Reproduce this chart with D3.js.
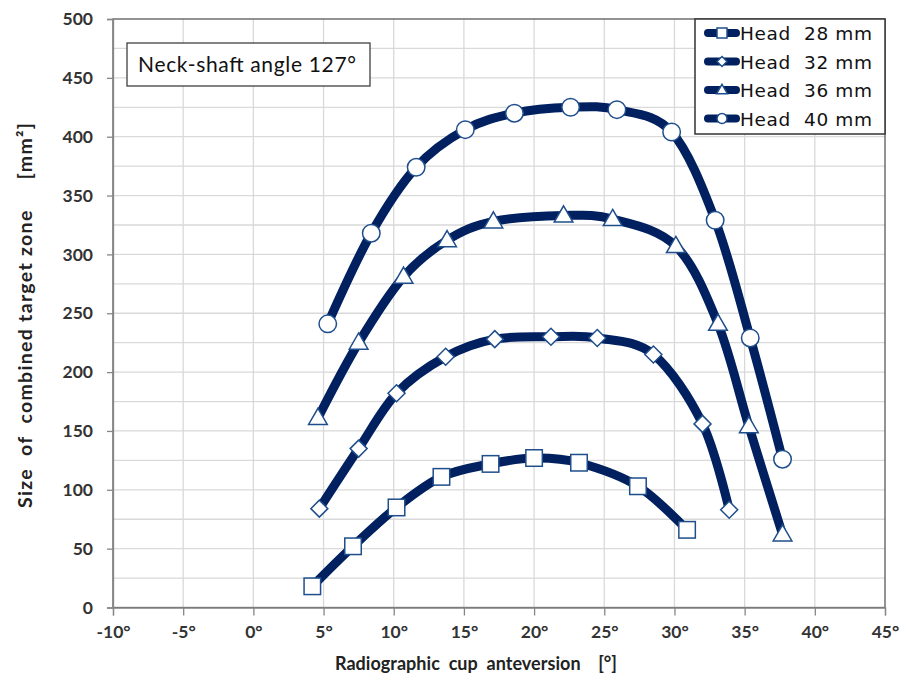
<!DOCTYPE html>
<html>
<head>
<meta charset="utf-8">
<script src="https://cdn.jsdelivr.net/npm/d3@7"></script>
<style>
  html, body { margin: 0; padding: 0; background: #fff; }
  svg { display: block; }
  text { white-space: pre; }
</style>
</head>
<body>
<svg id="chart" width="904" height="677"></svg>
<script>
// Cup anteversion (degrees) and combined target zone size (mm²) per head size
const head28X = [4.2, 7.1, 10.2, 13.4, 16.9, 20.0, 23.2, 27.4, 30.9];
const head28Y = [18, 52, 85, 111, 122, 127, 123, 103, 66];
const head32X = [4.7, 7.5, 10.2, 13.7, 17.2, 21.2, 24.5, 28.5, 32.0, 33.9];
const head32Y = [84, 135, 182, 213, 228, 230, 229, 215, 156, 83];
const head36X = [4.6, 7.5, 10.7, 13.8, 17.1, 22.1, 25.6, 30.1, 33.1, 35.3, 37.7];
const head36Y = [161, 225, 281, 312, 328, 333, 330, 307, 241, 154, 62];
const head40X = [5.3, 8.4, 11.6, 15.1, 18.6, 22.6, 25.9, 29.8, 32.9, 35.4, 37.7];
const head40Y = [241, 318, 374, 406, 420, 425, 423, 404, 329, 229, 126];

const seriesNames = ["Head  28 mm", "Head  32 mm", "Head  36 mm", "Head  40 mm"];
const markerKinds = ["square", "diamond", "triangle", "circle"];

const xTicks = [-10, -5, 0, 5, 10, 15, 20, 25, 30, 35, 40, 45];
const yTicks = [0, 50, 100, 150, 200, 250, 300, 350, 400, 450, 500];
const yGrid = d3.range(0, 501, 25);

const annotation = "Neck-shaft angle 127°";
const xTitle = "Radiographic  cup  anteversion    [°]";
const yTitle = "Size  of  combined target zone     [mm²]";

const series = [
  [head28X, head28Y], [head32X, head32Y], [head36X, head36Y], [head40X, head40Y]
].map((s, i) => ({
  name: seriesNames[i],
  kind: markerKinds[i],
  points: s[0].map((x, j) => ({ x, y: s[1][j] }))
}));

const navy = "#00205f";
const markerStroke = "#1f4e8c";
const fontMain = "Lato, 'Open Sans', 'Liberation Sans', sans-serif";

const svg = d3.select("#chart");
const L = 113, R = 885, T = 19, B = 607.5;

const x = d3.scaleLinear().domain([-10, 45]).range([L, R]);
const y = d3.scaleLinear().domain([0, 500]).range([B, T]);

// grid
svg.append("g").selectAll("line").data(yGrid.filter(v => v > 0 && v < 500)).join("line")
  .attr("x1", L).attr("x2", R).attr("y1", d => y(d)).attr("y2", d => y(d))
  .attr("stroke", "#d9d9d9").attr("stroke-width", 1.3);
svg.append("g").selectAll("line").data(xTicks.filter(v => v > -10 && v < 45)).join("line")
  .attr("y1", T).attr("y2", B).attr("x1", d => x(d)).attr("x2", d => x(d))
  .attr("stroke", "#d9d9d9").attr("stroke-width", 1.3);

// frame
svg.append("rect").attr("x", L).attr("y", T).attr("width", R - L).attr("height", B - T)
  .attr("fill", "none").attr("stroke", "#595959").attr("stroke-width", 1.3);

// axes
const xAxis = svg.append("g").attr("transform", `translate(0,${B})`)
  .call(d3.axisBottom(x).tickValues(xTicks).tickSize(8).tickPadding(10).tickFormat(d => d + "°"));
const yAxis = svg.append("g").attr("transform", `translate(${L},0)`)
  .call(d3.axisLeft(y).tickValues(yTicks).tickSize(6).tickPadding(14));
[xAxis, yAxis].forEach(a => {
  a.select(".domain").attr("stroke", "#868686").attr("stroke-width", 1.3);
  a.selectAll(".tick line").attr("stroke", "#868686").attr("stroke-width", 1.3);
  a.selectAll("text").attr("fill", "#333").attr("font-family", fontMain)
    .attr("font-weight", "bold").attr("font-size", 17.5);
});

// axis titles
svg.append("text").attr("x", 335).attr("y", 670)
  .attr("textLength", 282).attr("lengthAdjust", "spacing")
  .attr("font-family", fontMain).attr("font-weight", "bold").attr("font-size", 18)
  .attr("fill", "#222").text(xTitle);
svg.append("text").attr("transform", "translate(32,508) rotate(-90)")
  .attr("textLength", 385).attr("lengthAdjust", "spacing")
  .attr("font-family", fontMain).attr("font-weight", "bold").attr("font-size", 19.5)
  .attr("fill", "#222").text(yTitle);

// curves
const line = d3.line().x(d => x(d.x)).y(d => y(d.y)).curve(d3.curveCardinal.tension(0));
svg.append("g").selectAll("path").data(series).join("path")
  .attr("d", d => line(d.points))
  .attr("fill", "none").attr("stroke", navy).attr("stroke-width", 9)
  .attr("stroke-linejoin", "round").attr("stroke-linecap", "round");

function drawMarker(g, kind, s) {
  let el;
  if (kind === "square") {
    el = g.append("rect").attr("x", -s / 2).attr("y", -s / 2).attr("width", s).attr("height", s);
  } else if (kind === "circle") {
    el = g.append("circle").attr("r", s / 2);
  } else if (kind === "diamond") {
    const h = s / 2;
    el = g.append("path").attr("d", `M0,${-h}L${h},0L0,${h}L${-h},0Z`);
  } else {
    const w = s * 1.1, h = s * 0.95;
    el = g.append("path").attr("d", `M0,${-h * 0.6}L${w / 2},${h * 0.4}L${-w / 2},${h * 0.4}Z`);
  }
  el.attr("fill", "#fff").attr("stroke", markerStroke).attr("stroke-width", 1.5);
}

const markerSize = { square: 16.5, diamond: 17, triangle: 17, circle: 17.5 };
series.forEach(s => {
  const g = svg.append("g");
  s.points.forEach(p => {
    const m = g.append("g").attr("transform", `translate(${x(p.x)},${y(p.y)})`);
    drawMarker(m, s.kind, markerSize[s.kind]);
  });
});

// annotation box
const ann = svg.append("g");
ann.append("rect").attr("x", 127).attr("y", 43).attr("width", 243).attr("height", 43)
  .attr("fill", "#fff").attr("stroke", "#404040").attr("stroke-width", 1.3);
ann.append("text").attr("x", 138).attr("y", 72)
  .attr("textLength", 218).attr("lengthAdjust", "spacing")
  .attr("font-family", fontMain).attr("font-size", 21).attr("fill", "#111").text(annotation);

// legend
const leg = svg.append("g");
leg.append("rect").attr("x", 695).attr("y", T).attr("width", R - 695).attr("height", 115)
  .attr("fill", "#fff").attr("stroke", "#333").attr("stroke-width", 1.5);
series.forEach((s, i) => {
  const cy = 33 + i * 28.5;
  const row = leg.append("g").attr("transform", `translate(0,${cy})`);
  row.append("line").attr("x1", 708).attr("x2", 736).attr("y1", 0).attr("y2", 0)
    .attr("stroke", navy).attr("stroke-width", 8).attr("stroke-linecap", "round");
  const m = row.append("g").attr("transform", "translate(722,0)");
  drawMarker(m, s.kind, 10);
  row.append("text").attr("x", 740).attr("y", 7)
    .attr("textLength", 132).attr("lengthAdjust", "spacing")
    .attr("font-family", "'DejaVu Sans', Verdana, sans-serif")
    .attr("font-size", 18.5).attr("fill", "#111").text(s.name);
});
</script>
</body>
</html>
